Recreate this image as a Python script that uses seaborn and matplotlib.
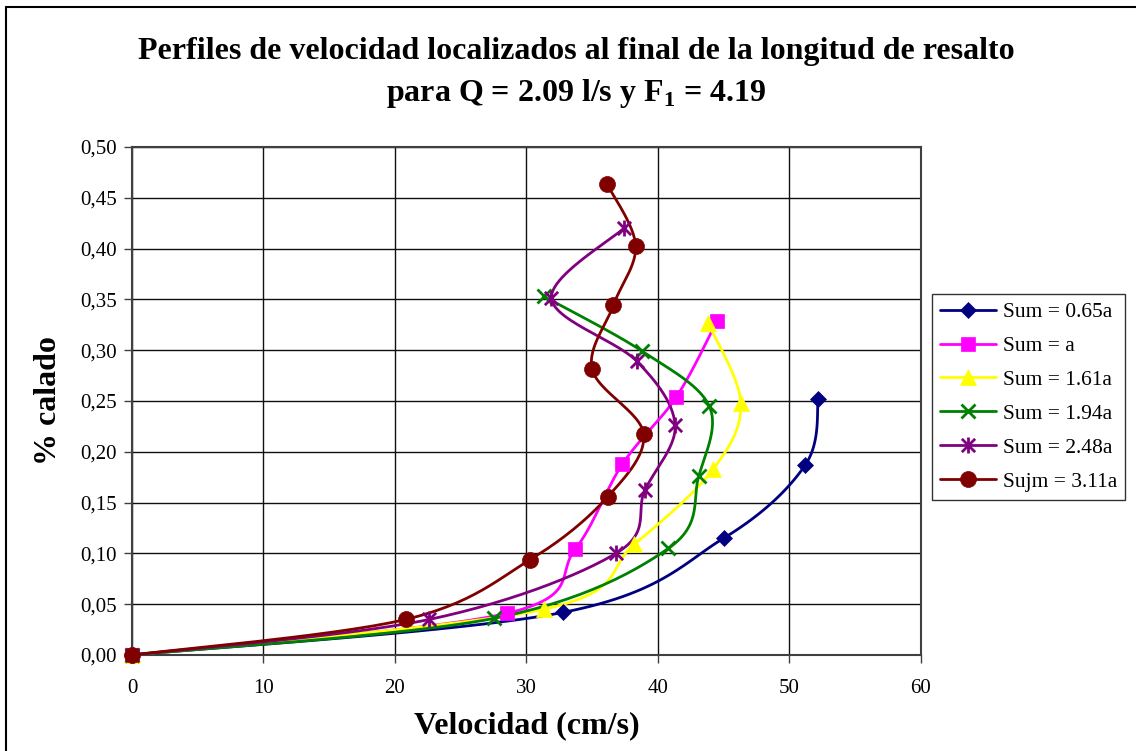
import numpy as np
import pandas as pd
import matplotlib
matplotlib.use('Agg')
import matplotlib.pyplot as plt
import seaborn as sns
from matplotlib.lines import Line2D
from matplotlib.path import Path
from matplotlib.ticker import FuncFormatter, MultipleLocator

# datos: velocidad (cm/s) y % calado
labels = ['Sum = 0.65a', 'Sum = a', 'Sum = 1.61a', 'Sum = 1.94a', 'Sum = 2.48a', 'Sujm = 3.11a']

vel_065 = [0, 32.8, 45.0, 51.2, 52.2]
cal_065 = [0, 0.042, 0.115, 0.187, 0.252]

vel_100 = [0, 28.5, 33.7, 37.3, 41.4, 44.5]
cal_100 = [0, 0.041, 0.104, 0.188, 0.254, 0.329]

vel_161 = [0, 31.3, 38.2, 44.2, 46.3, 43.8]
cal_161 = [0, 0.045, 0.109, 0.183, 0.248, 0.327]

vel_194 = [0, 27.5, 40.8, 43.1, 43.9, 38.8, 31.3]
cal_194 = [0, 0.036, 0.105, 0.176, 0.245, 0.299, 0.353]

vel_248 = [0, 22.6, 36.8, 39.0, 41.3, 38.4, 31.9, 37.4]
cal_248 = [0, 0.035, 0.100, 0.162, 0.226, 0.289, 0.351, 0.420]

vel_311 = [0, 20.8, 30.3, 36.2, 38.9, 35.0, 36.6, 38.3, 36.1]
cal_311 = [0, 0.035, 0.094, 0.156, 0.218, 0.281, 0.344, 0.403, 0.464]

series_x = [vel_065, vel_100, vel_161, vel_194, vel_248, vel_311]
series_y = [cal_065, cal_100, cal_161, cal_194, cal_248, cal_311]

colors = ['#000080', '#FF00FF', '#FFFF00', '#008000', '#800080', '#800000']

# asterisco estilo Excel (x + linea vertical)
star = Path([(-1, -1), (1, 1), (-1, 1), (1, -1), (0, -1.2), (0, 1.2)],
            [Path.MOVETO, Path.LINETO, Path.MOVETO, Path.LINETO, Path.MOVETO, Path.LINETO])
markers = ['D', 's', '^', 'x', star, 'o']
msizes = [8.5, 10.5, 11.5, 10.5, 11.5, 11.5]


def smooth(xs, ys, n=30):
    # linea suavizada tipo Excel (bezier con puntos de control catmull-rom)
    p = np.column_stack([xs, ys]).astype(float)
    scale = np.array([1.0, 100.0])
    q = p * scale
    out = [q[0]]
    for i in range(len(q) - 1):
        p0 = q[i - 1] if i > 0 else q[i]
        p1, p2 = q[i], q[i + 1]
        p3 = q[i + 2] if i + 2 < len(q) else q[i + 1]
        c1 = p1 + (p2 - p0) / 6
        c2 = p2 - (p3 - p1) / 6
        t = np.linspace(0, 1, n)[1:, None]
        b = (1 - t) ** 3 * p1 + 3 * (1 - t) ** 2 * t * c1 + 3 * (1 - t) * t ** 2 * c2 + t ** 3 * p2
        out.extend(b)
    out = np.array(out) / scale
    return out[:, 0], out[:, 1]


sns.set_style('white')
plt.rcParams['font.family'] = ['Liberation Serif', 'DejaVu Serif']
plt.rcParams['mathtext.fontset'] = 'custom'
plt.rcParams['mathtext.rm'] = 'Liberation Serif:bold'
plt.rcParams['mathtext.bf'] = 'Liberation Serif:bold'
for k in ['text.color', 'axes.labelcolor', 'xtick.color', 'ytick.color']:
    plt.rcParams[k] = 'black'

fig = plt.figure(figsize=(11.36, 7.51), dpi=100)
ax = fig.add_axes([0.1162, 0.1278, 0.6945, 0.6765])

for i in range(len(labels)):
    sx, sy = smooth(series_x[i], series_y[i])
    df = pd.DataFrame({'x': sx, 'y': sy})
    sns.lineplot(data=df, x='x', y='y', sort=False, estimator=None, color=colors[i],
                 lw=2, ax=ax, zorder=3)
for i in range(len(labels)):
    lw = 2 if i in (3, 4) else 0.5
    ax.plot(series_x[i], series_y[i], linestyle='none', marker=markers[i], ms=msizes[i],
            color=colors[i], mec=colors[i], mew=lw, zorder=4, clip_on=False)

ax.set_xlim(0, 60)
ax.set_ylim(0, 0.5)
ax.xaxis.set_major_locator(MultipleLocator(10))
ax.yaxis.set_major_locator(MultipleLocator(0.05))
ax.yaxis.set_major_formatter(FuncFormatter(lambda v, p: f'{v:.2f}'.replace('.', ',')))
ax.grid(True, color='#101010', lw=1)
ax.set_axisbelow(True)
for s in ax.spines.values():
    s.set_color('#404040')
    s.set_linewidth(1.5)
ax.tick_params(axis='both', direction='out', length=6, width=1, color='#404040',
               labelsize=15, left=True, bottom=True)
ax.tick_params(axis='x', pad=11)
ax.tick_params(axis='y', pad=5)

ax.set_xlabel('Velocidad (cm/s)', fontsize=23, fontweight='bold', labelpad=10)
ax.set_ylabel('% calado', fontsize=23, fontweight='bold', labelpad=12)

fig.text(0.5075, 0.932, 'Perfiles de velocidad localizados al final de la longitud de resalto',
         ha='center', va='center', fontsize=23, fontweight='bold')
fig.text(0.5075, 0.876, r'para Q = 2.09 l/s y F$_{\mathrm{1}}$ = 4.19',
         ha='center', va='center', fontsize=23, fontweight='bold')

handles = [Line2D([], [], color=colors[i], lw=2, marker=markers[i], ms=msizes[i],
                  mec=colors[i], mew=2 if i in (3, 4) else 0.5) for i in range(len(labels))]
leg = fig.legend(handles, labels, loc='upper left', bbox_to_anchor=(0.8204, 0.6085),
                 fontsize=15.5, frameon=True, fancybox=False, edgecolor='black',
                 handlelength=2.6, handletextpad=0.3, labelspacing=0.64, borderpad=0.38,
                 borderaxespad=0)
leg.get_frame().set_linewidth(1)

# borde del area del grafico
fig.add_artist(Line2D([6 / 1136, 6 / 1136], [0, 1 - 7 / 751], color='black', lw=1.5,
                      transform=fig.transFigure))
fig.add_artist(Line2D([6 / 1136, 1], [1 - 7 / 751, 1 - 7 / 751], color='black', lw=1.5,
                      transform=fig.transFigure))

fig.savefig('out.png', dpi=100)
